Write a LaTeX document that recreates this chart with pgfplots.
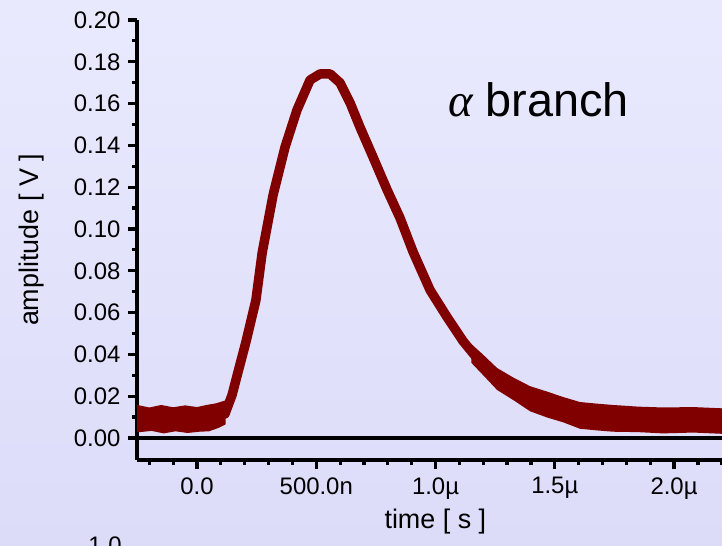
\documentclass[border=0pt]{standalone}
\usepackage{pgfplots}
\pgfplotsset{compat=1.18}
\usepackage{fontspec}
\setmainfont{Liberation Sans}
\newfontfamily\grk{Liberation Serif}
\definecolor{bgtop}{RGB}{233,233,254}
\definecolor{bgbot}{RGB}{220,220,249}
\definecolor{curve}{RGB}{128,0,0}
\begin{document}
\begin{tikzpicture}
\useasboundingbox (0,0) rectangle (722bp,546bp);
\shade[top color=bgtop, bottom color=bgbot] (0,0) rectangle (722bp,546bp);
\begin{axis}[
  at={(137bp,86bp)}, anchor=south west,
  scale only axis, width=585bp, height=440bp,
  xmin=-0.2516, xmax=2.201, ymin=-0.01053, ymax=0.20,
  axis x line*=bottom, axis y line*=left,
  axis line style={-, line width=3.2bp, black},
  every outer x axis line/.append style={line width=3.2bp},
  every outer y axis line/.append style={line width=3.2bp},
  every tick/.append style={line width=3.2bp, black},
  tick align=outside,
  major tick length=9bp, minor tick length=5bp,
  xtick={0,0.5,1,1.5,2},
  xticklabels={{0.0},{500.0n},{1.0µ},{1.5µ},{2.0µ}},
  minor xtick={-0.2,-0.1,0.1,0.2,0.3,0.4,0.6,0.7,0.8,0.9,1.1,1.2,1.3,1.4,1.6,1.7,1.8,1.9,2.1,2.2},
  ytick={0,0.02,0.04,0.06,0.08,0.10,0.12,0.14,0.16,0.18,0.20},
  minor ytick={0.01,0.03,0.05,0.07,0.09,0.11,0.13,0.15,0.17,0.19},
  ticklabel style={font=\fontsize{24}{28}\selectfont, black},
  yticklabel style={xshift=-4bp, /pgf/number format/.cd, fixed, fixed zerofill, precision=2, assume math mode=true},
  xticklabel style={yshift=-5bp},
  xlabel={time [ s ]}, ylabel={amplitude [ V ]},
  label style={font=\fontsize{27}{32}\selectfont},
  x label style={at={(axis description cs:0.51,-0.14)}, anchor=center},
  y label style={at={(axis description cs:-0.1795,0.5)}, anchor=center, rotate=0},
]
% zero line
\addplot[black, line width=3.2bp] coordinates {(-0.3,0) (2.3,0)};
% noisy baseline band
\addplot[curve, fill=curve, draw=none] coordinates {
(-0.30,0.0150) (-0.25,0.0158) (-0.20,0.0146) (-0.15,0.0158) (-0.10,0.0147) (-0.05,0.0156) (0.00,0.0148) (0.04,0.0158) (0.08,0.0166) (0.12,0.0180)
(0.12,0.0065) (0.09,0.0048) (0.05,0.0032) (0.01,0.0030) (-0.04,0.0024) (-0.09,0.0032) (-0.14,0.0022) (-0.19,0.0034) (-0.24,0.0028) (-0.30,0.0036)
} -- cycle;
% noisy tail band
\addplot[curve, fill=curve, draw=none] coordinates {
(1.150,0.0450) (1.200,0.0398) (1.258,0.0335) (1.325,0.0290) (1.396,0.0248) (1.468,0.0222) (1.535,0.0196) (1.606,0.0172) (1.680,0.0164) (1.744,0.0158) (1.850,0.0150) (1.954,0.0146) (2.080,0.0148) (2.201,0.0142) (2.300,0.0140)
(2.300,0.0024) (2.201,0.0020) (2.080,0.0026) (1.954,0.0022) (1.850,0.0028) (1.744,0.0030) (1.680,0.0036) (1.606,0.0044) (1.535,0.0075) (1.468,0.0098) (1.396,0.0128) (1.325,0.0182) (1.258,0.0230) (1.200,0.0300) (1.150,0.0360)
} -- cycle;
% main trace
\addplot[curve, line width=9.5bp, line join=round] coordinates {
(-0.30,0.0094) (-0.071,0.0094) (0.055,0.0100) (0.117,0.0115) (0.147,0.0206) (0.172,0.0316)
(0.205,0.0459) (0.247,0.0660) (0.273,0.0885) (0.319,0.1163) (0.369,0.1392) (0.419,0.1569)
(0.474,0.1713) (0.516,0.1742) (0.558,0.1742) (0.600,0.1699) (0.642,0.1603) (0.683,0.1488)
(0.738,0.1344) (0.797,0.1187) (0.851,0.1053) (0.906,0.0890) (0.977,0.0708) (1.048,0.0579)
(1.115,0.0464) (1.187,0.0364) (1.258,0.0282) (1.325,0.0230) (1.396,0.0187) (1.468,0.0158)
(1.535,0.0134) (1.606,0.0115) (1.677,0.0100) (1.816,0.0086) (1.954,0.0081) (2.201,0.0077) (2.300,0.0077)
};
\node[anchor=base west, inner sep=0pt, font=\fontsize{47}{56}\selectfont] at (axis cs:1.052,0.154) {{\grk\itshape α} branch};
\end{axis}
\node[anchor=north, inner sep=0pt, font=\fontsize{24}{28}\selectfont] at (105bp,9bp) {1.0};
\end{tikzpicture}
\end{document}
